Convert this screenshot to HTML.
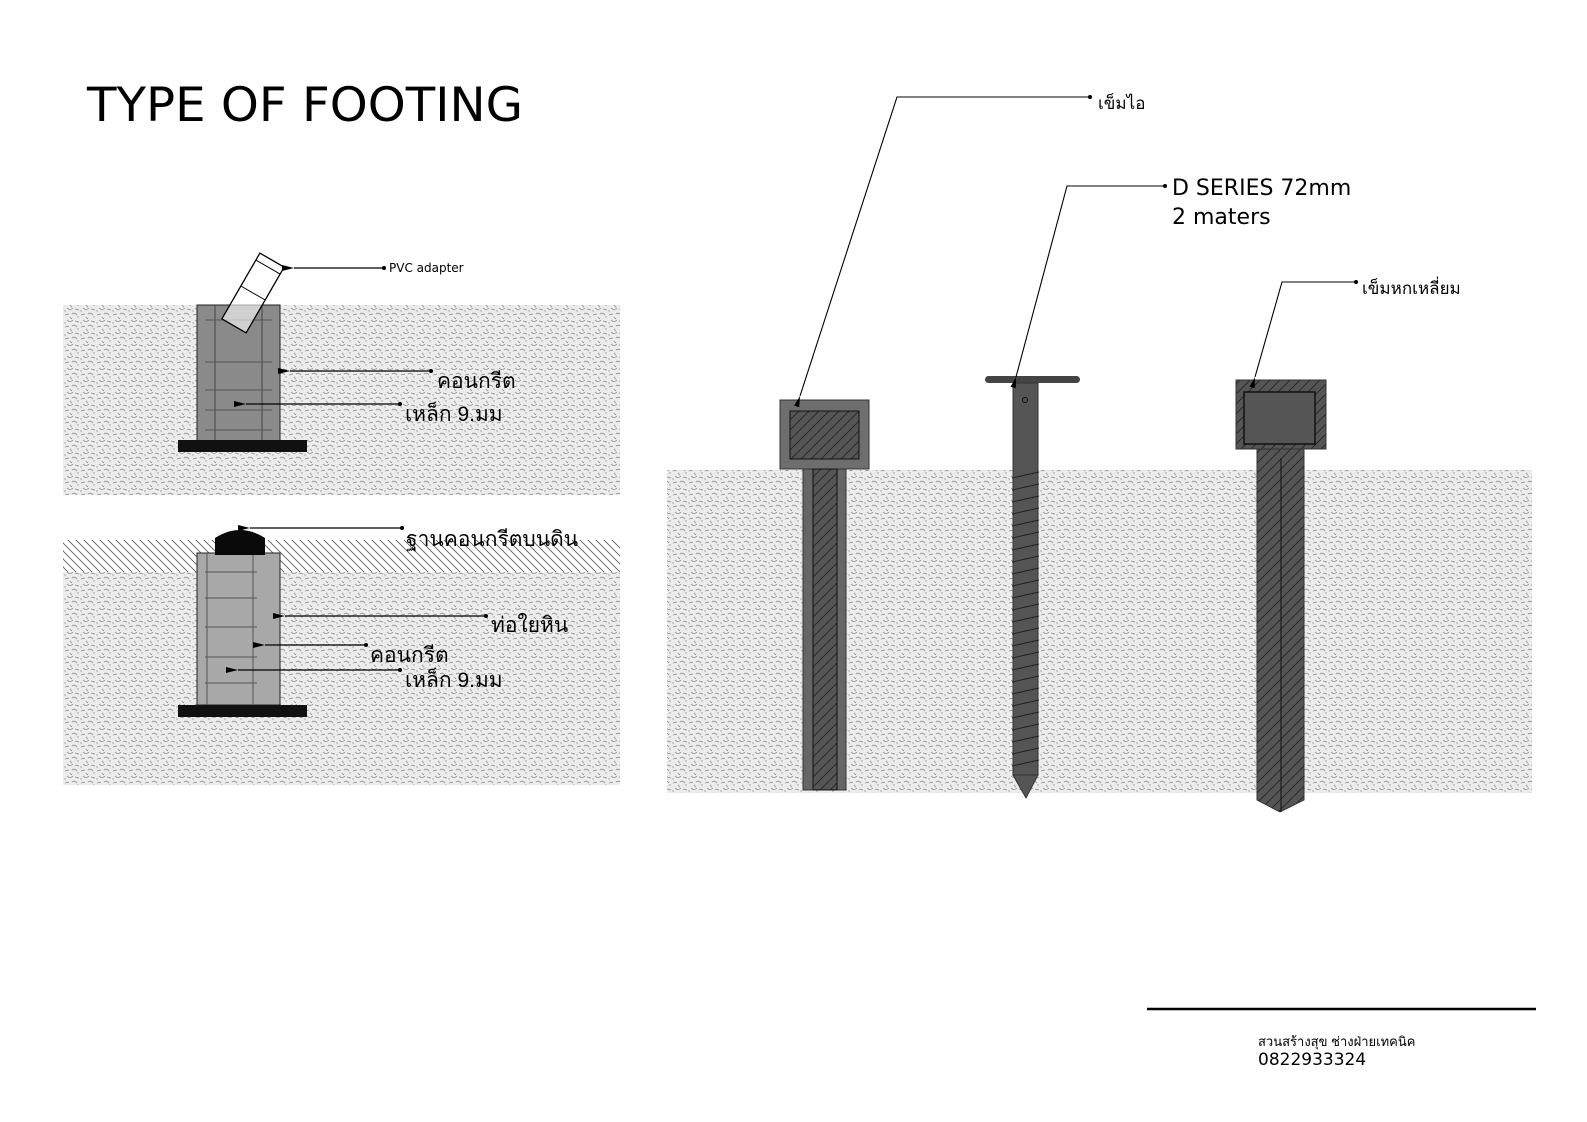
<!DOCTYPE html>
<html><head><meta charset="utf-8"><style>
html,body{margin:0;padding:0;background:#fff;overflow:hidden;width:1587px;height:1122px;}
svg{display:block;}
text{font-family:"Liberation Sans","DejaVu Sans",sans-serif;fill:#000;}
.v{font-family:"DejaVu Sans","Liberation Sans",sans-serif;}
</style></head><body>
<svg width="1587" height="1122" viewBox="0 0 1587 1122" xmlns="http://www.w3.org/2000/svg">
<defs>
<pattern id="g" width="16" height="12" patternUnits="userSpaceOnUse">
<rect width="16" height="12" fill="#ececec"/>
<path d="M1 3 l4 -1 M8 2 q3 -2 5 1 M3 8 q3 3 6 0 M11 9 l4 1 M6 5 l2 2" stroke="#888" stroke-width="0.8" fill="none"/>
<circle cx="14" cy="5" r="0.6" fill="#777"/><circle cx="1" cy="11" r="0.6" fill="#777"/>
</pattern>
<pattern id="h" width="8" height="8" patternUnits="userSpaceOnUse">
<rect width="8" height="8" fill="#fff"/>
<path d="M0 0 L8 8 M-4 4 L4 12 M4 -4 L12 4" stroke="#555" stroke-width="0.8"/>
</pattern>
<pattern id="d" width="10" height="10" patternUnits="userSpaceOnUse">
<rect width="10" height="10" fill="#555"/>
<path d="M0 10 L10 0 M-5 5 L5 -5 M5 15 L15 5" stroke="#222" stroke-width="0.8"/>
</pattern>
<marker id="a" markerWidth="10" markerHeight="6" refX="0" refY="3" orient="auto-start-reverse"><path d="M0 3 L10 0.5 L10 5.5z" fill="#000"/></marker>
</defs>

<text class="v" x="87" y="121" font-size="47" textLength="436" lengthAdjust="spacingAndGlyphs">TYPE OF FOOTING</text>

<!-- top footing -->
<rect x="63" y="305" width="557" height="190" fill="url(#g)"/>
<rect x="197" y="305" width="83" height="137" fill="#8a8a8a" stroke="#222"/>
<line x1="215" y1="305" x2="215" y2="440" stroke="#444"/><line x1="262" y1="305" x2="262" y2="440" stroke="#444"/>
<g stroke="#555"><line x1="205" y1="320" x2="272" y2="320"/><line x1="205" y1="362" x2="272" y2="362"/><line x1="205" y1="390" x2="272" y2="390"/><line x1="205" y1="410" x2="272" y2="410"/><line x1="205" y1="430" x2="272" y2="430"/></g>
<rect x="178" y="440" width="129" height="12" fill="#111"/>
<g transform="translate(253,293) rotate(30)"><rect x="-14" y="-38" width="28" height="76" fill="#fff" fill-opacity="0.6" stroke="#000" stroke-width="1.3"/><line x1="-14" y1="-30" x2="14" y2="-30" stroke="#000"/><line x1="-14" y1="0" x2="14" y2="0" stroke="#000"/></g>
<g stroke="#000" stroke-width="1.2" fill="none">
<path d="M384 268 H294" marker-end="url(#a)"/>
<path d="M431 371 H290" marker-end="url(#a)"/>
<path d="M400 404 H246" marker-end="url(#a)"/>
</g>
<circle cx="384" cy="268" r="2" /><circle cx="431" cy="371" r="2"/><circle cx="400" cy="404" r="2"/>
<text class="v" x="389" y="272" font-size="12">PVC adapter</text>
<text x="437" y="388" font-size="21">คอนกรีต</text>
<text x="405" y="421" font-size="21">เหล็ก 9.มม</text>

<!-- bottom footing -->
<rect x="63" y="540" width="557" height="32" fill="url(#h)"/>
<rect x="63" y="572" width="557" height="213" fill="url(#g)"/>
<rect x="197" y="553" width="83" height="152" fill="#a8a8a8" stroke="#222"/>
<line x1="207" y1="553" x2="207" y2="705" stroke="#555"/><line x1="253" y1="553" x2="253" y2="705" stroke="#555"/>
<g stroke="#555"><line x1="205" y1="572" x2="257" y2="572"/><line x1="205" y1="598" x2="257" y2="598"/><line x1="205" y1="627" x2="257" y2="627"/><line x1="205" y1="657" x2="257" y2="657"/><line x1="205" y1="683" x2="257" y2="683"/></g>
<path d="M215 555 V538 Q240 522 265 538 V555 Z" fill="#0a0a0a"/>
<rect x="178" y="705" width="129" height="12" fill="#111"/>
<g stroke="#000" stroke-width="1.2" fill="none">
<path d="M402 528 H250" marker-end="url(#a)"/>
<path d="M486 616 H285" marker-end="url(#a)"/>
<path d="M366 645 H265" marker-end="url(#a)"/>
<path d="M400 670 H238" marker-end="url(#a)"/>
</g>
<circle cx="402" cy="528" r="2"/><circle cx="486" cy="616" r="2"/><circle cx="366" cy="645" r="2"/><circle cx="400" cy="670" r="2"/>
<text x="406" y="546" font-size="21">ฐานคอนกรีตบนดิน</text>
<text x="491" y="632" font-size="21">ท่อใยหิน</text>
<text x="370" y="662" font-size="21">คอนกรีต</text>
<text x="405" y="687" font-size="21">เหล็ก 9.มม</text>

<!-- right ground -->
<rect x="667" y="470" width="865" height="323" fill="url(#g)"/>

<!-- pile 1 -->
<rect x="780" y="400" width="89" height="69" fill="#6e6e6e" stroke="#333"/>
<rect x="790" y="411" width="69" height="48" fill="url(#d)" stroke="#111"/>
<rect x="803" y="469" width="43" height="321" fill="#666" stroke="#333"/>
<rect x="813" y="469" width="24" height="321" fill="url(#d)" stroke="#111"/>

<!-- screw pile -->
<rect x="985" y="376" width="95" height="7" rx="3.5" fill="#444"/>
<rect x="1013" y="383" width="25" height="392" fill="#555" stroke="#333"/>
<circle cx="1025" cy="400" r="2.5" fill="none" stroke="#111"/>
<path d="M1013 775 L1026 798 L1038 775 Z" fill="#555" stroke="#333"/>
<g stroke="#222" stroke-width="1">
<path d="M1012 478 L1039 472 M1012 490 L1039 484 M1012 502 L1039 496 M1012 514 L1039 508 M1012 526 L1039 520 M1012 538 L1039 532 M1012 550 L1039 544 M1012 562 L1039 556 M1012 574 L1039 568 M1012 586 L1039 580 M1012 598 L1039 592 M1012 610 L1039 604 M1012 622 L1039 616 M1012 634 L1039 628 M1012 646 L1039 640 M1012 658 L1039 652 M1012 670 L1039 664 M1012 682 L1039 676 M1012 694 L1039 688 M1012 706 L1039 700 M1012 718 L1039 712 M1012 730 L1039 724 M1012 742 L1039 736 M1012 754 L1039 748 M1012 766 L1039 760"/>
</g>

<!-- pile 3 -->
<rect x="1236" y="380" width="90" height="69" fill="url(#d)" stroke="#333"/>
<rect x="1244" y="392" width="71" height="52" fill="#555" stroke="#111" stroke-width="1.5"/>
<path d="M1257 449 H1304 V800 L1280 812 L1257 800 Z" fill="url(#d)" stroke="#333"/>
<line x1="1281" y1="458" x2="1281" y2="812" stroke="#111"/>

<!-- leaders right -->
<g stroke="#000" stroke-width="1.1" fill="none">
<path d="M1090 97 H897 L800 396" marker-end="url(#a)"/>
<path d="M1165 186 H1067 L1016 377" marker-end="url(#a)"/>
<path d="M1356 282 H1282 L1255 377" marker-end="url(#a)"/>
</g>
<circle cx="1090" cy="97" r="2"/><circle cx="1165" cy="186" r="2"/><circle cx="1356" cy="282" r="2"/>
<text x="1098" y="109" font-size="17">เข็มไอ</text>
<text class="v" x="1172" y="195" font-size="22">D SERIES 72mm</text>
<text class="v" x="1172" y="224" font-size="22">2 maters</text>
<text x="1362" y="294" font-size="17">เข็มหกเหลี่ยม</text>

<!-- footer -->
<line x1="1147" y1="1009" x2="1536" y2="1009" stroke="#000" stroke-width="2.5"/>
<text x="1258" y="1046" font-size="13">สวนสร้างสุข ช่างฝ่ายเทคนิค</text>
<text class="v" x="1258" y="1065" font-size="17">0822933324</text>
</svg>
</body></html>
